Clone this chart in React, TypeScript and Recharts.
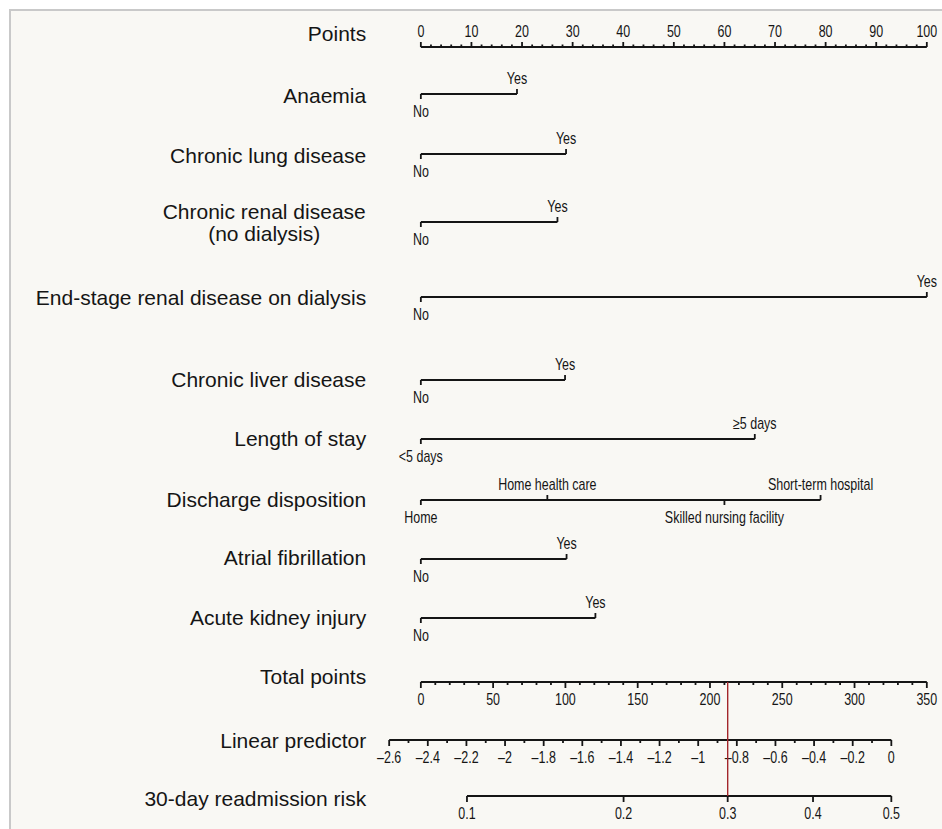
import React from "react";
import { ScatterChart, Scatter, XAxis, YAxis } from "recharts";

// ---------- data ----------
const POINTS_TICKS = [0, 10, 20, 30, 40, 50, 60, 70, 80, 90, 100];
const TOTAL_POINTS_TICKS = [0, 50, 100, 150, 200, 250, 300, 350];
const LP_TICKS = [-2.6, -2.4, -2.2, -2, -1.8, -1.6, -1.4, -1.2, -1, -0.8, -0.6, -0.4, -0.2, 0];
const RISK_TICKS = [0.1, 0.2, 0.3, 0.4, 0.5];

const anaemiaLevels = ["No", "Yes"];
const anaemiaPoints = [0, 19];
const lungLevels = ["No", "Yes"];
const lungPoints = [0, 28.7];
const renalLevels = ["No", "Yes"];
const renalPoints = [0, 27];
const esrdLevels = ["No", "Yes"];
const esrdPoints = [0, 100];
const liverLevels = ["No", "Yes"];
const liverPoints = [0, 28.5];
const losLevels = ["<5 days", "\u22655 days"];
const losPoints = [0, 66];
const dischargeLevels = ["Home", "Home health care", "Skilled nursing facility", "Short-term hospital"];
const dischargePoints = [0, 25, 60, 79];
const afLevels = ["No", "Yes"];
const afPoints = [0, 28.8];
const akiLevels = ["No", "Yes"];
const akiPoints = [0, 34.5];

// model constants of the nomogram
const LP_INTERCEPT = -2.436; // linear predictor at 0 total points
const LP_PER_TOTAL_POINT = 0.007485;
const TOTAL_PER_POINT = 3.5; // 350 total points span the 100-point ruler
const MARKED_RISK = 0.3;

// ---------- layout ----------
const W = 931;
const H = 818;
const X_DOMAIN = [-81, 103];
const Y_DOMAIN = [11, 829];
const TITLE_X = -10.8;

const ROWS = {
  points: { line: 47, title: 33, name: "Points" },
  anaemia: { line: 94, title: 95, name: "Anaemia" },
  lung: { line: 154, title: 155, name: "Chronic lung disease" },
  renal: { line: 222, title: 222, name: "Chronic renal disease\n(no dialysis)" },
  esrd: { line: 297, title: 297, name: "End-stage renal disease on dialysis" },
  liver: { line: 380, title: 379, name: "Chronic liver disease" },
  los: { line: 439, title: 438, name: "Length of stay" },
  discharge: { line: 500, title: 499, name: "Discharge disposition" },
  af: { line: 559, title: 557, name: "Atrial fibrillation" },
  aki: { line: 618, title: 617, name: "Acute kidney injury" },
  total: { line: 682, title: 676, name: "Total points" },
  lp: { line: 740, title: 740, name: "Linear predictor" },
  risk: { line: 796, title: 798, name: "30-day readmission risk" },
};

const INK = "#151515";
const RED = "#a3262a";
const TITLE_FONT = "'Liberation Sans', Arial, sans-serif";
const TICK_FONT = "'Liberation Sans', Arial, sans-serif";
const TICK_SIZE = 16;
const TICK_SQUEEZE = 0.78;

// ---------- helpers ----------
const tpToPts = (tp: number) => tp / TOTAL_PER_POINT;
const lpToPts = (lp: number) => tpToPts((lp - LP_INTERCEPT) / LP_PER_TOTAL_POINT);
const logit = (p: number) => Math.log(p / (1 - p));
const fmt = (v: number) => (v < 0 ? "\u2013" + String(Math.abs(v)) : String(v));

const variableRow = (levels: string[], pts: number[], y: number) =>
  levels.map((text, i) => ({ x: pts[i], y, text, side: i % 2 === 0 ? "below" : "above", len: 5 }));

function axisRow(
  major: number[],
  minorStep: number,
  toPts: (v: number) => number,
  y: number,
  side: string,
  majorLen: number,
  minorLen: number,
  label: (v: number) => string
) {
  const items: any[] = major.map((v) => ({ x: toPts(v), y, text: label(v), side, len: majorLen }));
  if (minorStep > 0) {
    for (let i = 0; i < major.length - 1; i++) {
      const a = major[i];
      const b = major[i + 1];
      const n = Math.round((b - a) / minorStep);
      for (let k = 1; k < n; k++) {
        items.push({ x: toPts(a + k * minorStep), y, text: null, side, len: minorLen });
      }
    }
  }
  return items.sort((p, q) => p.x - q.x);
}

const pointsData = axisRow(POINTS_TICKS, 2, (v) => v, ROWS.points.line, "above", 5, 2.5, String);
const totalData = axisRow(TOTAL_POINTS_TICKS, 10, tpToPts, ROWS.total.line, "below", 6, 3, String);
const lpData = axisRow(LP_TICKS, 0.1, lpToPts, ROWS.lp.line, "below", 6, 3, fmt);
const riskData = axisRow(RISK_TICKS, 0, (p) => lpToPts(logit(p)), ROWS.risk.line, "below", 6, 3, String);

const rowSeries = [
  variableRow(anaemiaLevels, anaemiaPoints, ROWS.anaemia.line),
  variableRow(lungLevels, lungPoints, ROWS.lung.line),
  variableRow(renalLevels, renalPoints, ROWS.renal.line),
  variableRow(esrdLevels, esrdPoints, ROWS.esrd.line),
  variableRow(liverLevels, liverPoints, ROWS.liver.line),
  variableRow(losLevels, losPoints, ROWS.los.line),
  variableRow(dischargeLevels, dischargePoints, ROWS.discharge.line),
  variableRow(afLevels, afPoints, ROWS.af.line),
  variableRow(akiLevels, akiPoints, ROWS.aki.line),
  pointsData,
  totalData,
  lpData,
  riskData,
];

const titleData = Object.values(ROWS).map((r) => ({ x: TITLE_X, y: r.title, text: r.name }));

const markerX = lpToPts(logit(MARKED_RISK));
const markerData = [
  { x: markerX, y: ROWS.total.line },
  { x: markerX, y: ROWS.risk.line },
];

// ---------- shapes ----------
const Mark = (props: any) => {
  const { cx, cy, payload } = props;
  if (cx == null || cy == null) return null;
  const up = payload.side === "above";
  const y2 = up ? cy - payload.len : cy + payload.len;
  const ty = up ? cy - 10 : cy + 23;
  return (
    <g>
      <line x1={cx} x2={cx} y1={cy} y2={y2} stroke={INK} strokeWidth={1.8} />
      {payload.text != null && (
        <text
          transform={`translate(${cx},${ty}) scale(${TICK_SQUEEZE},1)`}
          x={0}
          y={0}
          textAnchor="middle"
          fontFamily={TICK_FONT}
          fontSize={TICK_SIZE}
          fill={INK}
        >
          {payload.text}
        </text>
      )}
    </g>
  );
};

const Title = (props: any) => {
  const { cx, cy, payload } = props;
  if (cx == null || cy == null) return null;
  const lines = String(payload.text).split("\n");
  const lh = 22;
  const y0 = cy - ((lines.length - 1) * lh) / 2 + 7.5;
  const multi = lines.length > 1;
  return (
    <text x={cx} y={y0} textAnchor="end" fontFamily={TITLE_FONT} fontSize={21} fill={INK}>
      {lines.map((l, i) => (
        <tspan key={i} x={multi ? cx - 102 : cx} y={y0 + i * lh} textAnchor={multi ? "middle" : "end"}>
          {l}
        </tspan>
      ))}
    </text>
  );
};

const Nothing = () => null;

export default function App() {
  return (
    <div
      style={{
        position: "absolute",
        left: 9,
        top: 9,
        width: W,
        height: H,
        background: "#f9f8f4",
        borderLeft: "2px solid #c9c9c9",
        borderTop: "2px solid #c9c9c9",
      }}
    >
      <ScatterChart width={W} height={H} margin={{ top: 0, right: 0, bottom: 0, left: 0 }}>
        <XAxis type="number" dataKey="x" domain={X_DOMAIN} allowDataOverflow hide />
        <YAxis type="number" dataKey="y" domain={Y_DOMAIN} allowDataOverflow reversed hide />
        {rowSeries.map((d, i) => (
          <Scatter
            key={i}
            data={d}
            line={{ stroke: INK, strokeWidth: 2 }}
            shape={<Mark />}
            isAnimationActive={false}
          />
        ))}
        <Scatter
          data={markerData}
          line={{ stroke: RED, strokeWidth: 1.4 }}
          shape={<Nothing />}
          isAnimationActive={false}
        />
        <Scatter data={titleData} shape={<Title />} isAnimationActive={false} />
      </ScatterChart>
    </div>
  );
}
